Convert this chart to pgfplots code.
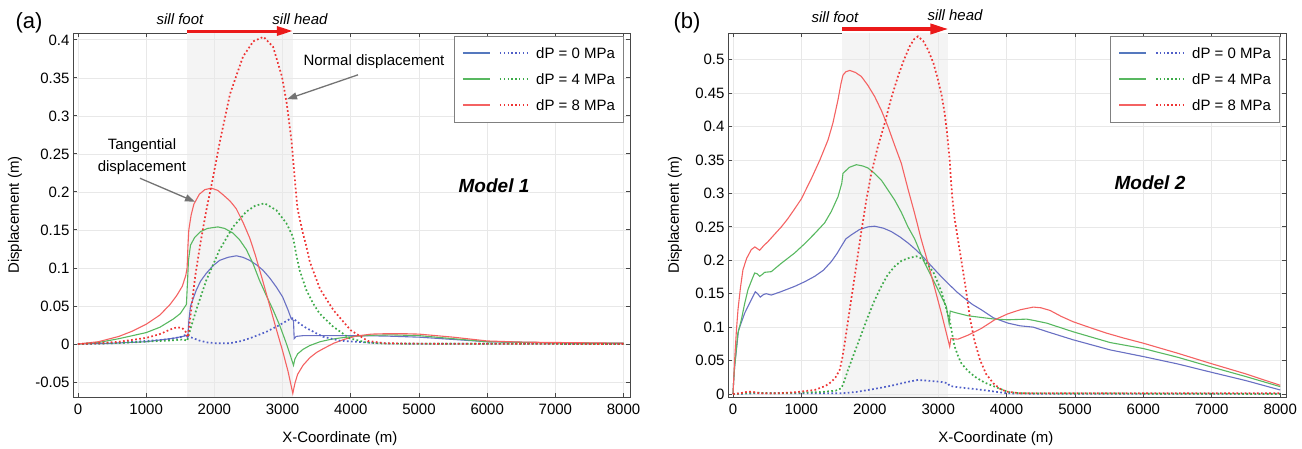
\documentclass[border=0pt]{standalone}
\usepackage{fontspec}
\setmainfont{Liberation Sans}
\usepackage{pgfplots}
\pgfplotsset{compat=1.18}
\usetikzlibrary{arrows.meta}

\definecolor{cblue}{RGB}{105,112,195}
\definecolor{cgreen}{RGB}{88,184,96}
\definecolor{cred}{RGB}{244,98,98}
\definecolor{dblue}{RGB}{80,95,200}
\definecolor{dgreen}{RGB}{60,170,72}
\definecolor{dred}{RGB}{238,52,52}
\definecolor{lblue}{RGB}{85,120,190}
\definecolor{arrowred}{RGB}{235,25,25}

\pgfplotsset{
  dispaxis/.style={
    scale only axis, width=557pt, height=364pt, anchor=south west,
    xmin=-73, xmax=8094,
    xtick={0,1000,2000,3000,4000,5000,6000,7000,8000},
    xticklabels={0,1000,2000,3000,4000,5000,6000,7000,8000},
    grid=major, grid style={color=black!9, line width=0.7pt},
    axis line style={color=black!72, line width=0.9pt},
    tick style={color=black!72, line width=0.9pt},
    major tick length=4pt, tick align=inside,
    ticklabel style={font=\fontsize{15}{18}\selectfont},
    xticklabel style={yshift=-3pt},
    label style={font=\fontsize{15}{18}\selectfont},
    xlabel={X-Coordinate (m)}, ylabel={Displacement (m)},
    clip=false,
  },
  tan/.style={line width=1.1pt},
  nor/.style={line width=1.7pt, dash pattern=on 1.7pt off 2.4pt},
}

% legend box drawn from the axis' north east corner
\newcommand{\dplegend}[1]{%
  \begin{scope}[shift={(#1.north east)}]
    \draw[black!50, line width=0.9pt, fill=white] (-176pt,-89pt) rectangle (-7pt,-3pt);
    \foreach \yy/\cs/\cd/\lab in {-20/lblue/dblue/0, -46/cgreen/dgreen/4, -72/cred/dred/8}{
      \draw[\cs, line width=1.8pt] (-167pt,\yy pt) -- (-140pt,\yy pt);
      \draw[\cd, line width=1.5pt, dash pattern=on 1.5pt off 2.3pt] (-130pt,\yy pt) -- (-102pt,\yy pt);
      \node[anchor=west, inner sep=0pt] at (-94pt,\yy pt) {dP = \lab\ MPa};
    }
  \end{scope}}

\begin{document}
\begin{tikzpicture}[font=\fontsize{15}{18}\selectfont]
\useasboundingbox (0,0) rectangle (1302pt,448pt);

% ---------------- panel (a)
\begin{axis}[dispaxis, name=pa, at={(73pt,51pt)},
  ymin=-0.0697, ymax=0.409,
  ytick={-0.05,0,0.05,0.1,0.15,0.2,0.25,0.3,0.35,0.4},
  yticklabels={-0.05,0,0.05,0.1,0.15,0.2,0.25,0.3,0.35,0.4},
  xlabel style={at={(axis description cs:0.479,-0.115)}, anchor=center},
  ylabel style={at={(axis description cs:-0.104,0.5)}, anchor=center}]

\fill[black!4.5] (axis cs:1600,-0.0697) rectangle (axis cs:3150,0.409);
\draw[black!9, line width=0.7pt] (axis cs:2000,-0.0697) -- (axis cs:2000,0.409)
  (axis cs:3000,-0.0697) -- (axis cs:3000,0.409);
\foreach \yy in {-0.05,0,0.05,0.1,0.15,0.2,0.25,0.3,0.35,0.4}
  {\edef\tmp{\noexpand\draw[black!9, line width=0.7pt] (axis cs:1600,\yy) -- (axis cs:3150,\yy);}\tmp}

% tangential (solid)
\addplot[tan, cblue] coordinates {(0,0) (500,0.001) (1000,0.003) (1400,0.0075) (1590,0.011) (1610,0.008) (1625,0.03) (1650,0.05) (1735,0.071) (1800,0.083) (1882,0.093) (1980,0.103) (2077,0.110) (2200,0.114) (2322,0.116) (2420,0.114) (2517,0.110) (2620,0.104) (2713,0.097) (2810,0.087) (2908,0.075) (3000,0.062) (3079,0.045) (3128,0.033) (3160,0.031) (3170,0.007) (3200,0.010) (3300,0.011) (3600,0.011) (4000,0.011) (4500,0.0105) (5000,0.009) (5500,0.006) (6000,0.003) (7000,0.0015) (8000,0.001)};
\addplot[tan, cgreen] coordinates {(0,0) (300,0.002) (600,0.007) (1000,0.015) (1200,0.022) (1400,0.033) (1500,0.040) (1590,0.052) (1605,0.08) (1620,0.11) (1650,0.13) (1710,0.140) (1800,0.148) (1900,0.152) (2050,0.154) (2150,0.152) (2270,0.146) (2370,0.137) (2470,0.124) (2570,0.105) (2660,0.084) (2760,0.064) (2860,0.045) (2960,0.024) (3050,0.002) (3110,-0.014) (3160,-0.028) (3180,-0.020) (3220,-0.013) (3300,-0.007) (3400,-0.002) (3550,0.003) (3700,0.006) (3850,0.008) (4050,0.010) (4300,0.0115) (4600,0.012) (5000,0.011) (5500,0.007) (6000,0.003) (7000,0.0015) (8000,0.001)};
\addplot[tan, cred] coordinates {(0,0) (300,0.003) (600,0.010) (800,0.017) (1000,0.026) (1200,0.038) (1350,0.052) (1450,0.064) (1530,0.076) (1580,0.090) (1600,0.10) (1612,0.128) (1625,0.15) (1660,0.170) (1700,0.184) (1780,0.197) (1860,0.203) (1955,0.205) (2050,0.202) (2130,0.196) (2230,0.188) (2320,0.178) (2420,0.160) (2520,0.139) (2600,0.117) (2700,0.086) (2800,0.054) (2900,0.022) (3000,-0.009) (3080,-0.036) (3150,-0.065) (3180,-0.052) (3220,-0.040) (3300,-0.028) (3400,-0.018) (3500,-0.011) (3600,-0.006) (3750,0.001) (3900,0.006) (4080,0.0105) (4300,0.013) (4500,0.0135) (4800,0.0135) (5000,0.013) (5500,0.009) (6000,0.004) (6500,0.0025) (7000,0.002) (8000,0.001)};

% normal (dotted)
\addplot[nor, dblue] coordinates {(0,0) (500,0.001) (1000,0.004) (1300,0.006) (1500,0.009) (1590,0.0125) (1650,0.009) (1784,0.0044) (1900,0.002) (2028,0.001) (2224,0.001) (2400,0.004) (2517,0.0075) (2650,0.012) (2761,0.016) (2957,0.025) (3128,0.034) (3160,0.034) (3200,0.030) (3348,0.021) (3592,0.0096) (3837,0.0044) (4228,0.002) (4600,0.0005) (8000,0)};
\addplot[nor, dgreen] coordinates {(0,0) (500,0.001) (1000,0.003) (1400,0.005) (1550,0.006) (1600,0.004) (1650,0.02) (1735,0.045) (1882,0.084) (2077,0.124) (2273,0.154) (2468,0.174) (2600,0.182) (2737,0.185) (2908,0.176) (3055,0.159) (3152,0.141) (3200,0.118) (3250,0.097) (3348,0.071) (3450,0.053) (3543,0.040) (3739,0.023) (3983,0.0075) (4228,0.002) (4500,0.0005) (8000,0)};
\addplot[nor, dred] coordinates {(0,0) (300,0.001) (600,0.003) (1000,0.008) (1200,0.013) (1350,0.019) (1450,0.022) (1530,0.021) (1580,0.016) (1610,0.009) (1640,0.03) (1680,0.06) (1720,0.09) (1800,0.135) (1880,0.175) (1960,0.210) (2080,0.266) (2230,0.329) (2420,0.378) (2570,0.398) (2720,0.404) (2860,0.391) (2990,0.352) (3060,0.317) (3130,0.268) (3180,0.216) (3216,0.180) (3250,0.165) (3300,0.145) (3350,0.128) (3400,0.108) (3550,0.072) (3750,0.044) (4000,0.018) (4250,0.004) (4500,0.001) (5000,0.0005) (8000,0)};

% annotations
\draw[arrowred, line width=3pt, -{Triangle[length=16pt,width=9pt]}]
  ([yshift=2pt]axis cs:1600,0.409) -- ([yshift=2pt]axis cs:3152,0.409);
\node[font=\fontsize{15}{18}\selectfont\itshape] at ([yshift=14pt]axis cs:1496,0.409) {sill foot};
\node[font=\fontsize{15}{18}\selectfont\itshape] at ([yshift=14pt]axis cs:3255,0.409) {sill head};
\node at (axis cs:4340,0.371) {Normal displacement};
\draw[black!55, line width=1.3pt, -{Triangle[length=10pt,width=7pt]}]
  (axis cs:4106,0.354) -- (axis cs:3065,0.322);
\node[align=center, font=\fontsize{15}{22}\selectfont] at (axis cs:938,0.247) {Tangential\\displacement};
\draw[black!55, line width=1.3pt, -{Triangle[length=10pt,width=7pt]}]
  (axis cs:909,0.218) -- (axis cs:1716,0.187);
\node[font=\fontsize{19}{22}\selectfont\bfseries\itshape] at (axis cs:6100,0.208) {Model 1};
\end{axis}
\dplegend{pa}

% ---------------- panel (b)
\begin{axis}[dispaxis, name=pb, at={(728pt,51pt)}, width=558pt,
  xmin=-73, xmax=8085,
  ymin=-0.0045, ymax=0.540,
  ytick={0,0.05,0.1,0.15,0.2,0.25,0.3,0.35,0.4,0.45,0.5},
  yticklabels={0,0.05,0.1,0.15,0.2,0.25,0.3,0.35,0.4,0.45,0.5},
  xlabel style={at={(axis description cs:0.480,-0.115)}, anchor=center},
  ylabel style={at={(axis description cs:-0.095,0.5)}, anchor=center}]

\fill[black!4.5] (axis cs:1600,-0.0045) rectangle (axis cs:3150,0.540);
\draw[black!9, line width=0.7pt] (axis cs:2000,-0.0045) -- (axis cs:2000,0.540)
  (axis cs:3000,-0.0045) -- (axis cs:3000,0.540);
\foreach \yy in {0,0.05,0.1,0.15,0.2,0.25,0.3,0.35,0.4,0.45,0.5}
  {\edef\tmp{\noexpand\draw[black!9, line width=0.7pt] (axis cs:1600,\yy) -- (axis cs:3150,\yy);}\tmp}

% tangential (solid)
\addplot[tan, cblue] coordinates {(0,0) (10,0.02) (24,0.041) (80,0.095) (171,0.121) (268,0.141) (326,0.153) (360,0.150) (399,0.145) (450,0.149) (487,0.150) (560,0.148) (700,0.153) (902,0.161) (1050,0.168) (1194,0.176) (1320,0.185) (1437,0.198) (1520,0.210) (1584,0.221) (1650,0.232) (1729,0.238) (1850,0.246) (1974,0.250) (2071,0.251) (2200,0.248) (2314,0.243) (2440,0.235) (2558,0.226) (2660,0.217) (2753,0.208) (2850,0.197) (2949,0.186) (3050,0.175) (3168,0.163) (3280,0.152) (3387,0.143) (3500,0.134) (3630,0.126) (3806,0.114) (4020,0.106) (4196,0.102) (4390,0.100) (4600,0.093) (4975,0.081) (5512,0.066) (5998,0.056) (6500,0.045) (6974,0.033) (7500,0.020) (8000,0.006)};
\addplot[tan, cgreen] coordinates {(0,0) (10,0.02) (24,0.041) (70,0.09) (122,0.111) (170,0.135) (219,0.156) (280,0.172) (317,0.181) (350,0.180) (390,0.176) (430,0.179) (463,0.182) (560,0.183) (700,0.195) (902,0.211) (1050,0.225) (1194,0.240) (1340,0.256) (1437,0.273) (1535,0.295) (1590,0.315) (1608,0.330) (1700,0.339) (1803,0.343) (1900,0.341) (1974,0.338) (2070,0.330) (2168,0.320) (2260,0.306) (2364,0.290) (2460,0.272) (2558,0.250) (2656,0.232) (2802,0.196) (2949,0.166) (3050,0.145) (3119,0.131) (3160,0.105) (3175,0.124) (3241,0.122) (3436,0.117) (3826,0.112) (4020,0.111) (4294,0.112) (4400,0.110) (4586,0.106) (4975,0.093) (5512,0.077) (5998,0.068) (6500,0.055) (6974,0.041) (7500,0.026) (8000,0.011)};
\addplot[tan, cred] coordinates {(0,0) (10,0.02) (24,0.051) (50,0.095) (73,0.126) (110,0.160) (146,0.186) (200,0.203) (268,0.216) (320,0.220) (390,0.215) (450,0.222) (512,0.228) (600,0.238) (707,0.250) (800,0.262) (902,0.277) (1000,0.292) (1145,0.322) (1270,0.350) (1389,0.380) (1460,0.405) (1535,0.440) (1580,0.465) (1608,0.477) (1650,0.482) (1706,0.484) (1790,0.481) (1876,0.475) (1970,0.462) (2071,0.445) (2170,0.424) (2266,0.400) (2360,0.373) (2461,0.345) (2560,0.306) (2656,0.270) (2750,0.232) (2851,0.196) (2950,0.158) (3046,0.121) (3110,0.095) (3168,0.071) (3185,0.083) (3290,0.082) (3436,0.088) (3630,0.098) (3826,0.111) (4020,0.120) (4200,0.126) (4390,0.130) (4500,0.129) (4635,0.125) (4800,0.116) (4975,0.108) (5200,0.100) (5463,0.091) (5700,0.084) (5998,0.076) (6500,0.061) (6974,0.046) (7500,0.030) (8000,0.013)};

% normal (dotted)
\addplot[nor, dblue] coordinates {(0,0) (300,0.001) (1000,0.001) (1584,0.001) (1800,0.003) (1974,0.006) (2170,0.0095) (2364,0.0135) (2550,0.018) (2705,0.021) (2830,0.020) (2949,0.019) (3050,0.018) (3143,0.016) (3168,0.012) (3300,0.010) (3436,0.0085) (3650,0.006) (3826,0.0035) (4020,0.001) (4300,0.0005) (8000,0.0005)};
\addplot[nor, dgreen] coordinates {(0,0) (300,0.002) (600,0.001) (1000,0.002) (1300,0.003) (1500,0.005) (1584,0.0085) (1630,0.02) (1681,0.036) (1827,0.076) (1974,0.116) (2070,0.140) (2168,0.161) (2260,0.178) (2364,0.191) (2460,0.199) (2558,0.203) (2680,0.206) (2770,0.202) (2851,0.193) (2930,0.182) (2997,0.166) (3050,0.152) (3095,0.136) (3140,0.120) (3168,0.111) (3200,0.092) (3241,0.071) (3290,0.057) (3338,0.046) (3430,0.035) (3533,0.026) (3680,0.017) (3826,0.011) (4020,0.003) (4200,0.001) (8000,0)};
\addplot[nor, dred] coordinates {(0,0) (100,0.001) (219,0.0035) (300,0.003) (400,0.001) (600,0.001) (902,0.0025) (1194,0.006) (1350,0.012) (1437,0.018) (1500,0.025) (1560,0.036) (1600,0.055) (1633,0.076) (1706,0.126) (1779,0.176) (1876,0.243) (1949,0.290) (2022,0.330) (2118,0.370) (2218,0.405) (2312,0.442) (2412,0.475) (2500,0.500) (2583,0.520) (2650,0.531) (2705,0.535) (2780,0.528) (2851,0.515) (2930,0.495) (2997,0.470) (3050,0.447) (3095,0.420) (3130,0.390) (3168,0.350) (3182,0.325) (3210,0.290) (3241,0.262) (3290,0.230) (3338,0.200) (3400,0.160) (3465,0.113) (3530,0.080) (3611,0.051) (3700,0.030) (3806,0.016) (3900,0.008) (4001,0.0035) (4200,0.001) (8000,0.001)};

% annotations
\draw[arrowred, line width=3.5pt, -{Triangle[length=18pt,width=10pt]}]
  ([yshift=4pt]axis cs:1600,0.540) -- ([yshift=4pt]axis cs:3150,0.540);
\node[font=\fontsize{15}{18}\selectfont\itshape] at ([yshift=16pt]axis cs:1491,0.540) {sill foot};
\node[font=\fontsize{15}{18}\selectfont\itshape] at ([yshift=18pt]axis cs:3246,0.540) {sill head};
\node[font=\fontsize{19}{22}\selectfont\bfseries\itshape] at (axis cs:6096,0.316) {Model 2};
\end{axis}
\dplegend{pb}

\node[font=\fontsize{22}{26}\selectfont] at (29pt,425pt) {(a)};
\node[font=\fontsize{22}{26}\selectfont] at (687pt,425pt) {(b)};
\end{tikzpicture}
\end{document}
